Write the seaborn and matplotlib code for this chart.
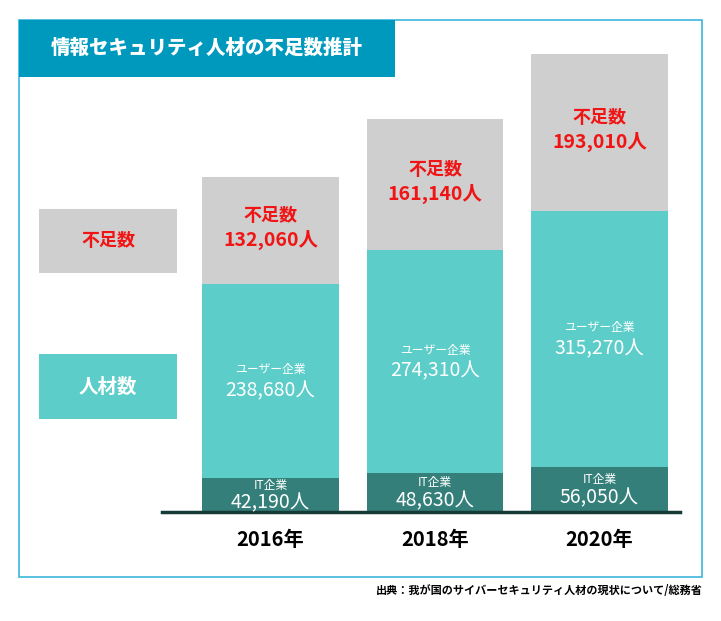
import matplotlib
matplotlib.use("Agg")
import matplotlib.pyplot as plt
import seaborn as sns
import pandas as pd
from matplotlib.patches import Rectangle

# data
years = ["2016年", "2018年", "2020年"]
it_kigyo = [42190, 48630, 56050]
user_kigyo = [238680, 274310, 315270]
fusoku = [132060, 161140, 193010]

df = pd.DataFrame({"year": years, "it": it_kigyo, "user": user_kigyo, "short": fusoku})
df["it_user"] = df["it"] + df["user"]
df["total"] = df["it_user"] + df["short"]

sns.set_theme(style="white")
plt.rcParams["font.family"] = ["Noto Sans CJK JP", "DejaVu Sans"]

c_gray = "#cfcfcf"
c_teal = "#5ccdc9"
c_dark = "#347f7a"
c_red = "#f01414"

W, H = 721, 621
fig = plt.figure(figsize=(W / 100, H / 100), dpi=100)
ax = fig.add_axes([162 / W, 1 - 512 / H, (680 - 162) / W, (512 - 54) / H])

# stacked bars: draw cumulative totals, tallest first
bar_kw = dict(width=0.83, saturation=1, linewidth=0, edgecolor="none", ax=ax)
sns.barplot(data=df, x="year", y="total", color=c_gray, **bar_kw)
sns.barplot(data=df, x="year", y="it_user", color=c_teal, **bar_kw)
sns.barplot(data=df, x="year", y="it", color=c_dark, **bar_kw)

ax.set_xlim(-0.66, 2.49)
ax.set_ylim(0, df["total"].max())
ax.set_xlabel("")
ax.set_ylabel("")
ax.set_yticks([])
for s in ["top", "right", "left"]:
    ax.spines[s].set_visible(False)
ax.spines["bottom"].set_color("#163a36")
ax.spines["bottom"].set_linewidth(2.5)
ax.tick_params(axis="x", length=0, pad=12)
for lab in ax.get_xticklabels():
    lab.set_fontsize(14.5)
    lab.set_fontweight("bold")
    lab.set_color("black")

# labels in segments
for i, r in df.iterrows():
    mid = r["it"] / 2
    ax.annotate("IT企業", (i, mid), xytext=(0, 7), textcoords="offset points",
                ha="center", va="center", fontsize=8.5, color="white")
    ax.annotate(f"{r['it']:,}人", (i, mid), xytext=(0, -6), textcoords="offset points",
                ha="center", va="center", fontsize=14, color="white")
    mid = r["it"] + r["user"] / 2
    ax.annotate("ユーザー企業", (i, mid), xytext=(0, 8), textcoords="offset points",
                ha="center", va="center", fontsize=8.5, color="white")
    ax.annotate(f"{r['user']:,}人", (i, mid), xytext=(0, -7), textcoords="offset points",
                ha="center", va="center", fontsize=14, color="white")
    mid = r["it_user"] + r["short"] / 2
    ax.annotate("不足数", (i, mid), xytext=(0, 11), textcoords="offset points",
                ha="center", va="center", fontsize=13, color=c_red, fontweight="bold")
    ax.annotate(f"{r['short']:,}人", (i, mid), xytext=(0, -7), textcoords="offset points",
                ha="center", va="center", fontsize=14, color=c_red, fontweight="bold")

def box(x0, y0, x1, y1, **kw):
    fig.patches.append(Rectangle((x0 / W, 1 - y1 / H), (x1 - x0) / W, (y1 - y0) / H,
                                 transform=fig.transFigure, **kw))

# frame and title
box(19, 20, 702, 577, fill=False, edgecolor="#3bb8dc", linewidth=1.2)
box(19, 20, 395, 77, facecolor="#0099be", edgecolor="none")
fig.text(207 / W, 1 - 48 / H, "情報セキュリティ人材の不足数推計", ha="center", va="center",
         fontsize=14, fontweight="heavy", color="white")

# legend boxes
box(39, 209, 177, 273, facecolor=c_gray, edgecolor="none")
fig.text(108 / W, 1 - 241 / H, "不足数", ha="center", va="center",
         fontsize=13, fontweight="bold", color=c_red)
box(39, 354, 177, 419, facecolor=c_teal, edgecolor="none")
fig.text(108 / W, 1 - 387 / H, "人材数", ha="center", va="center",
         fontsize=14, fontweight="bold", color="white")

fig.text(703 / W, 1 - 591 / H, "出典：我が国のサイバーセキュリティ人材の現状について/総務省",
         ha="right", va="center", fontsize=8, fontweight="bold", color="black")

fig.savefig("out.png", dpi=100)
